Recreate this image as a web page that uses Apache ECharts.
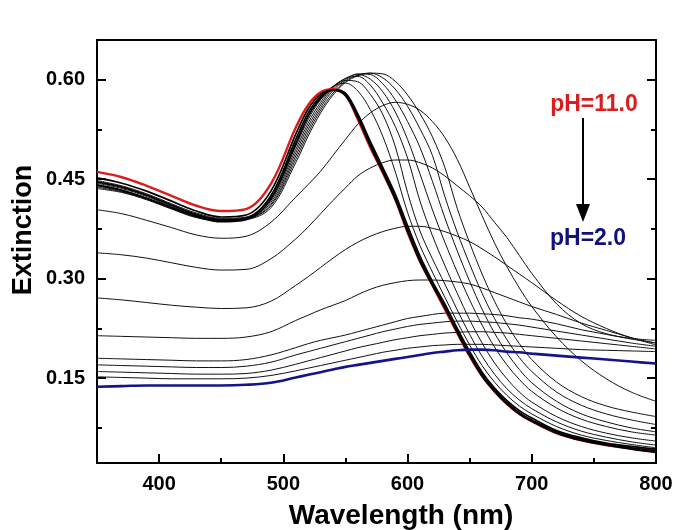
<!DOCTYPE html>
<html>
<head>
<meta charset="utf-8">
<script src="https://cdn.jsdelivr.net/npm/echarts@6/dist/echarts.min.js"></script>
<style>
html,body{margin:0;padding:0;background:#fff;}
#chart{width:678px;height:530px;}
</style>
</head>
<body>
<div id="chart"></div>
<script>
// ---- data ----
const wavelengths = [350,370,390,410,430,450,470,490,510,520,530,540,550,560,570,580,590,600,610,620,630,640,650,660,670,680,690,700,720,740,760,780,800];

const ph11 = [.461,.453,.440,.425,.410,.402,.405,.443,.528,.562,.581,.586,.577,.540,.498,.460,.420,.370,.326,.290,.254,.218,.183,.153,.130,.111,.096,.085,.067,.056,.049,.044,.039];
const black1 = [.452,.444,.432,.417,.402,.393,.396,.432,.518,.556,.578,.584,.576,.542,.500,.461,.420,.371,.326,.290,.256,.219,.184,.153,.130,.111,.096,.085,.067,.056,.049,.043,.038];
const black2 = [.446,.438,.426,.411,.397,.388,.391,.425,.510,.550,.575,.585,.578,.545,.503,.464,.423,.374,.329,.292,.258,.221,.186,.155,.132,.113,.098,.087,.069,.058,.050,.045,.041];
const black3 = [.441,.433,.421,.407,.394,.386,.389,.420,.503,.545,.572,.585,.580,.548,.507,.468,.428,.380,.334,.296,.262,.225,.190,.159,.135,.116,.101,.090,.071,.060,.052,.047,.043];
const shiftB1 = [.448,.440,.428,.413,.399,.391,.393,.425,.505,.545,.573,.590,.595,.583,.555,.515,.462,.400,.350,.310,.272,.235,.200,.169,.144,.124,.108,.096,.077,.064,.056,.050,.045];
const shiftB2 = [.446,.438,.426,.411,.397,.390,.392,.422,.500,.540,.570,.590,.599,.597,.578,.548,.500,.430,.372,.330,.292,.253,.216,.183,.156,.134,.117,.104,.084,.070,.061,.054,.049];
const shiftB3 = [.444,.436,.424,.409,.396,.389,.391,.418,.495,.535,.566,.589,.602,.605,.592,.565,.530,.482,.417,.365,.320,.278,.238,.203,.173,.149,.129,.114,.092,.077,.067,.060,.055];
const shiftB4 = [.442,.434,.422,.408,.395,.389,.391,.415,.490,.530,.562,.587,.602,.608,.601,.582,.552,.510,.458,.404,.355,.310,.268,.230,.197,.170,.148,.130,.105,.088,.077,.069,.064];
const shiftB5 = [.440,.432,.421,.407,.394,.388,.390,.412,.485,.525,.558,.584,.600,.609,.608,.594,.570,.537,.498,.447,.392,.342,.296,.254,.218,.188,.163,.143,.115,.096,.084,.075,.069];
const shiftB6 = [.438,.431,.420,.406,.393,.388,.390,.410,.480,.520,.554,.580,.598,.607,.610,.603,.586,.560,.526,.486,.424,.370,.322,.278,.240,.208,.181,.160,.129,.109,.096,.087,.080];
const shiftB7 = [.436,.430,.419,.405,.392,.387,.389,.407,.475,.515,.550,.577,.596,.606,.610,.609,.598,.577,.549,.514,.468,.406,.354,.307,.266,.231,.202,.178,.144,.122,.108,.099,.092];
const broadC1 = [.404,.398,.388,.377,.366,.361,.364,.385,.423,.442,.462,.486,.510,.533,.550,.561,.566,.563,.554,.537,.513,.480,.438,.395,.354,.318,.286,.258,.212,.176,.149,.129,.115];
const broadC2 = [.339,.336,.331,.324,.317,.313,.314,.330,.360,.378,.398,.418,.437,.455,.467,.475,.479,.479,.475,.467,.455,.440,.425,.408,.385,.362,.335,.308,.262,.232,.217,.210,.207];
const broadC3 = [.271,.268,.264,.260,.257,.255,.256,.266,.290,.303,.317,.331,.344,.355,.364,.371,.376,.379,.379,.376,.371,.364,.356,.345,.333,.320,.307,.294,.267,.243,.225,.211,.203];
const broadC4 = [.214,.213,.212,.211,.210,.210,.212,.220,.237,.245,.253,.260,.267,.276,.284,.290,.294,.297,.298,.298,.297,.295,.292,.286,.279,.272,.265,.258,.246,.233,.222,.211,.200];
const broadC5 = [.180,.179,.178,.177,.176,.176,.178,.185,.196,.202,.207,.211,.215,.220,.225,.230,.235,.240,.243,.246,.248,.248,.248,.247,.246,.244,.241,.239,.232,.223,.216,.209,.203];
const broadC6 = [.170,.169,.168,.167,.166,.166,.168,.174,.185,.190,.195,.200,.205,.210,.215,.220,.224,.228,.231,.233,.235,.236,.236,.235,.234,.232,.230,.227,.221,.215,.209,.203,.198];
const broadC7 = [.160,.159,.158,.157,.156,.156,.157,.162,.171,.176,.181,.186,.191,.196,.200,.204,.208,.211,.214,.216,.218,.219,.220,.220,.219,.218,.216,.214,.210,.206,.202,.198,.194];
const broadC8 = [.152,.151,.150,.149,.149,.149,.150,.154,.161,.165,.169,.173,.177,.181,.185,.189,.192,.195,.197,.199,.200,.201,.201,.201,.200,.199,.198,.197,.195,.193,.192,.191,.190];
const ph2 = [.137,.138,.139,.139,.139,.139,.140,.143,.151,.155,.159,.163,.167,.170,.173,.176,.179,.182,.185,.188,.190,.192,.193,.193,.192,.190,.189,.187,.184,.181,.178,.175,.172];

const xTickLabels = [400,500,600,700,800];
const xMinorTicks = [450,550,650,750];
const yTickLabels = [0.15,0.30,0.45,0.60];
const yMinorTicks = [0.075,0.225,0.375,0.525];
const labelTop = 'pH=11.0';
const labelBottom = 'pH=2.0';

// ---- chart ----
const FONT = '"Liberation Sans", Arial, Helvetica, sans-serif';
const thinSeries = [broadC8,broadC7,broadC6,broadC5,broadC4,broadC3,broadC2,broadC1,shiftB7,shiftB6,shiftB5,shiftB4,shiftB3,shiftB2,shiftB1];
const thickSeries = [black3,black2,black1];

function pairs(arr){ return wavelengths.map((w,i)=>[w,arr[i]]); }
function mk(arr, color, width, z){
  return {type:'line', data:pairs(arr), showSymbol:false, smooth:0.35, xAxisIndex:0, yAxisIndex:0,
    lineStyle:{color:color, width:width}, itemStyle:{color:color}, z:z, silent:true};
}
const series = [];
thinSeries.forEach(a=>series.push(mk(a,'#111',1,2)));
series.push(mk(ph11,'#e01b1b',2.4,3));
thickSeries.forEach(a=>series.push(mk(a,'#000',1.7,4)));
series.push(mk(ph2,'#14148a',2.6,5));

const axLine = {show:true, lineStyle:{color:'#000', width:2}};
const tickStyle = {color:'#000', width:2};
const labelStyle = {fontSize:20, fontWeight:'bold', color:'#000', fontFamily:FONT};

const chart = echarts.init(document.getElementById('chart'), null, {renderer:'canvas'});
chart.setOption({
  animation:false,
  backgroundColor:'#fff',
  grid:{left:97, right:22, top:40, bottom:67},
  xAxis:[
    {type:'value', min:350, max:800, position:'bottom', axisLine:axLine,
     axisTick:{show:true, inside:true, length:9, lineStyle:tickStyle, customValues:xTickLabels},
     axisLabel:Object.assign({show:true, margin:11, customValues:xTickLabels}, labelStyle),
     splitLine:{show:false}},
    {type:'value', min:350, max:800, position:'bottom', axisLine:{show:false},
     axisTick:{show:true, inside:true, length:5, lineStyle:tickStyle, customValues:xMinorTicks},
     axisLabel:{show:false}, splitLine:{show:false}},
    {type:'value', min:350, max:800, position:'top', axisLine:axLine,
     axisTick:{show:false}, axisLabel:{show:false}, splitLine:{show:false}}
  ],
  yAxis:[
    {type:'value', min:0.022, max:0.66, position:'left', axisLine:axLine,
     axisTick:{show:true, inside:true, length:9, lineStyle:tickStyle, customValues:yTickLabels},
     axisLabel:Object.assign({show:true, margin:12, customValues:yTickLabels, formatter:v=>Number(v).toFixed(2)}, labelStyle),
     splitLine:{show:false}},
    {type:'value', min:0.022, max:0.66, position:'left', axisLine:{show:false},
     axisTick:{show:true, inside:true, length:5, lineStyle:tickStyle, customValues:yMinorTicks},
     axisLabel:{show:false}, splitLine:{show:false}},
    {type:'value', min:0.022, max:0.66, position:'right', axisLine:axLine,
     axisTick:{show:true, inside:true, length:9, lineStyle:tickStyle, customValues:yTickLabels},
     axisLabel:{show:false}, splitLine:{show:false}},
    {type:'value', min:0.022, max:0.66, position:'right', axisLine:{show:false},
     axisTick:{show:true, inside:true, length:5, lineStyle:tickStyle, customValues:yMinorTicks},
     axisLabel:{show:false}, splitLine:{show:false}}
  ],
  series:series,
  graphic:[
    {type:'text', x:401, y:516, style:{text:'Wavelength (nm)', font:'bold 28px '+FONT, fill:'#000', align:'center', verticalAlign:'middle'}},
    {type:'text', x:24, y:230, rotation:Math.PI/2, style:{text:'Extinction', font:'bold 27px '+FONT, fill:'#000', align:'center', verticalAlign:'middle'}},
    {type:'text', x:594, y:105, style:{text:labelTop, font:'bold 23px '+FONT, fill:'#d81e1e', align:'center', verticalAlign:'middle'}},
    {type:'line', shape:{x1:583, y1:118, x2:583, y2:206}, style:{stroke:'#000', lineWidth:2}},
    {type:'polygon', shape:{points:[[576,204],[590,204],[583,222]]}, style:{fill:'#000'}},
    {type:'text', x:588, y:239, style:{text:labelBottom, font:'bold 23px '+FONT, fill:'#10107e', align:'center', verticalAlign:'middle'}}
  ]
});
</script>
</body>
</html>
